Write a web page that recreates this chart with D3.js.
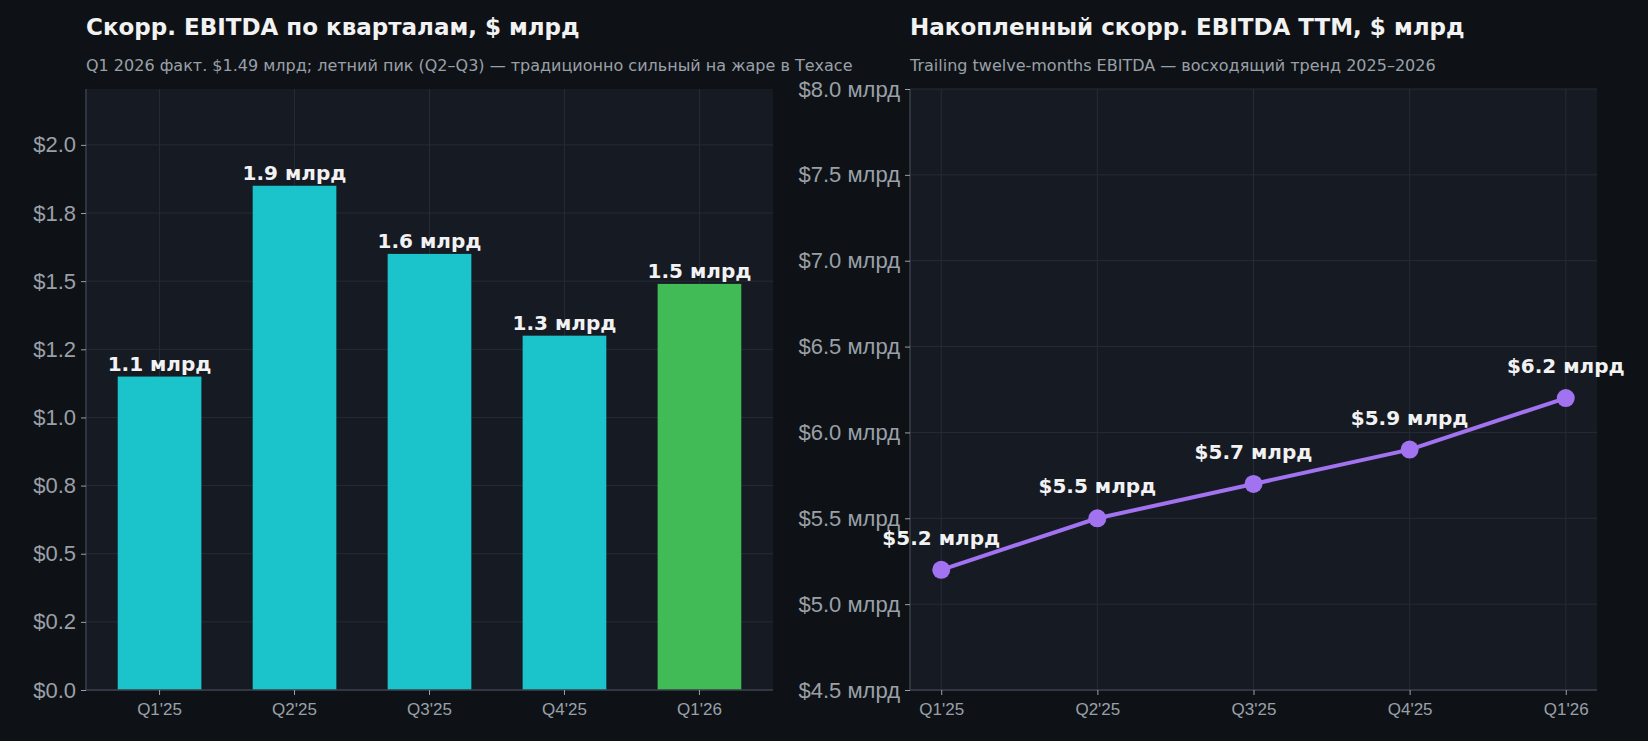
<!DOCTYPE html>
<html><head><meta charset="utf-8">
<script src="https://cdn.jsdelivr.net/npm/d3@7"></script>
<style>body{margin:0;background:#0e1216;}svg{display:block;font-family:"DejaVu Sans",sans-serif;}</style>
</head><body><svg id="c" width="1648" height="741"></svg>
<script>
const categories = ["Q1'25","Q2'25","Q3'25","Q4'25","Q1'26"];
const quarterly = [1.15, 1.85, 1.60, 1.30, 1.49];
const quarterlyLabels = ["1.1 млрд","1.9 млрд","1.6 млрд","1.3 млрд","1.5 млрд"];
const leftTicks = [0,0.25,0.5,0.75,1.0,1.25,1.5,1.75,2.0];
const leftTickLabels = ["$0.0","$0.2","$0.5","$0.8","$1.0","$1.2","$1.5","$1.8","$2.0"];
const ttm = [5.2, 5.5, 5.7, 5.9, 6.2];
const ttmLabels = ["$5.2 млрд","$5.5 млрд","$5.7 млрд","$5.9 млрд","$6.2 млрд"];
const rightTicks = [4.5,5.0,5.5,6.0,6.5,7.0,7.5,8.0];
const rightTickLabels = ["$4.5 млрд","$5.0 млрд","$5.5 млрд","$6.0 млрд","$6.5 млрд","$7.0 млрд","$7.5 млрд","$8.0 млрд"];

const svg = d3.select("#c");
const grid="#262b36", axisC="#3a3f4a", txt="#9aa0a8", white="#f2f2f2", panel="#161a23";
const TOP=89, BOT=690;

function frame(x0,x1,title,sub){
  svg.append("rect").attr("x",x0).attr("y",TOP).attr("width",x1-x0).attr("height",BOT-TOP).attr("fill",panel);
  svg.append("text").attr("x",x0).attr("y",35).attr("fill",white).attr("font-size",23).attr("font-weight","bold").text(title);
  svg.append("text").attr("x",x0).attr("y",71).attr("fill",txt).attr("font-size",16).text(sub);
}
// Left
const L0=86,L1=773;
frame(L0,L1,"Скорр. EBITDA по кварталам, $ млрд","Q1 2026 факт. $1.49 млрд; летний пик (Q2–Q3) — традиционно сильный на жаре в Техасе");
const xb=d3.scaleBand().domain(categories).range([L0,L1]).paddingInner(0.38).paddingOuter(0.235);
const yl=d3.scaleLinear().domain([0,2.205]).range([BOT,TOP]);
const gl=svg.append("g");
leftTicks.forEach(t=>gl.append("line").attr("x1",L0).attr("x2",L1).attr("y1",yl(t)).attr("y2",yl(t)).attr("stroke",grid));
categories.forEach(c=>gl.append("line").attr("x1",xb(c)+xb.bandwidth()/2).attr("x2",xb(c)+xb.bandwidth()/2).attr("y1",TOP).attr("y2",BOT).attr("stroke",grid));
svg.selectAll(".bar").data(quarterly).enter().append("rect")
  .attr("x",(d,i)=>xb(categories[i])).attr("width",xb.bandwidth())
  .attr("y",d=>yl(d)).attr("height",d=>BOT-yl(d))
  .attr("fill",(d,i)=>i===4?"#40bb55":"#1bc3ca");
svg.selectAll(".bl").data(quarterly).enter().append("text")
  .attr("x",(d,i)=>xb(categories[i])+xb.bandwidth()/2).attr("y",d=>yl(d)-6)
  .attr("text-anchor","middle").attr("fill",white).attr("font-size",20).attr("font-weight","bold")
  .text((d,i)=>quarterlyLabels[i]);
const ayl=svg.append("g").attr("transform",`translate(${L0},0)`)
  .call(d3.axisLeft(yl).tickValues(leftTicks).tickFormat((d,i)=>leftTickLabels[i]).tickSize(5).tickPadding(5));
const axb=svg.append("g").attr("transform",`translate(0,${BOT})`).call(d3.axisBottom(xb).tickSize(5).tickPadding(8));
// Right
const R0=910,R1=1597;
frame(R0,R1,"Накопленный скорр. EBITDA TTM, $ млрд","Trailing twelve-months EBITDA — восходящий тренд 2025–2026");
const xi=d3.scaleLinear().domain([-0.2,4.2]).range([R0,R1]);
const yr=d3.scaleLinear().domain([4.5,8.0]).range([BOT,TOP]);
rightTicks.forEach(t=>svg.append("line").attr("x1",R0).attr("x2",R1).attr("y1",yr(t)).attr("y2",yr(t)).attr("stroke",grid));
categories.forEach((c,i)=>svg.append("line").attr("x1",xi(i)).attr("x2",xi(i)).attr("y1",TOP).attr("y2",BOT).attr("stroke",grid));
svg.append("path").datum(ttm).attr("fill","none").attr("stroke","#a273f0").attr("stroke-width",4)
  .attr("d",d3.line().x((d,i)=>xi(i)).y(d=>yr(d)));
svg.selectAll(".pt").data(ttm).enter().append("circle").attr("cx",(d,i)=>xi(i)).attr("cy",d=>yr(d)).attr("r",9).attr("fill","#a273f0");
svg.selectAll(".pl").data(ttm).enter().append("text").attr("x",(d,i)=>xi(i)).attr("y",d=>yr(d)-25)
  .attr("text-anchor","middle").attr("fill",white).attr("font-size",20).attr("font-weight","bold").text((d,i)=>ttmLabels[i]);
const ayr=svg.append("g").attr("transform",`translate(${R0},0)`)
  .call(d3.axisLeft(yr).tickValues(rightTicks).tickFormat((d,i)=>rightTickLabels[i]).tickSize(5).tickPadding(5));
const axr=svg.append("g").attr("transform",`translate(0,${BOT})`)
  .call(d3.axisBottom(xi).tickValues([0,1,2,3,4]).tickFormat(i=>categories[i]).tickSize(5).tickPadding(8));
[ayl,ayr].forEach(a=>a.selectAll("text").attr("font-size",22).attr("fill",txt));
[axb,axr].forEach(a=>a.selectAll("text").attr("font-size",17).attr("fill",txt));
svg.selectAll(".domain").attr("stroke",axisC).attr("stroke-width",1.5);
svg.selectAll(".tick line").attr("stroke",txt);
ayl.select(".domain").attr("d",`M0,${BOT}V${TOP}`);
ayr.select(".domain").attr("d",`M0,${BOT}V${TOP}`);
axb.select(".domain").attr("d",`M${L0},0H${L1}`);
axr.select(".domain").attr("d",`M${R0},0H${R1}`);
</script></body></html>
